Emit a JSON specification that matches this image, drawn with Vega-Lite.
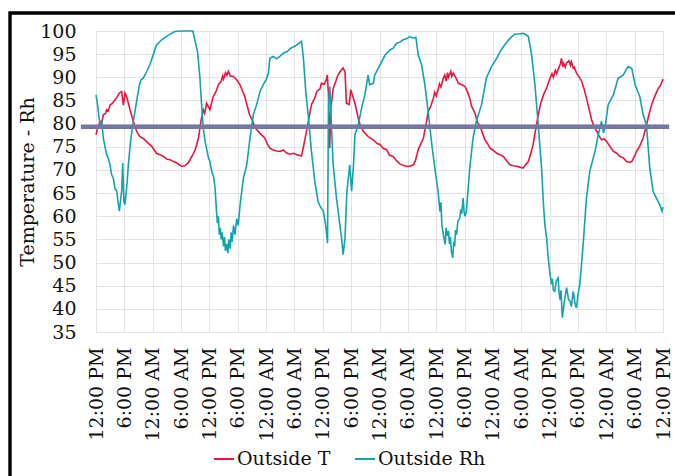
{
  "$schema": "https://vega.github.io/schema/vega-lite/v6.json",
  "width": 567,
  "height": 301,
  "autosize": {"type": "none"},
  "padding": {"left": 96, "top": 31, "right": 12, "bottom": 144},
  "background": "white",
  "config": {
    "font": "DejaVu Serif",
    "view": {"stroke": "#A6A6A6", "strokeWidth": 1},
    "axis": {"gridColor": "#E3E3E3", "gridWidth": 1, "domain": false, "ticks": false, "tickSize": 0, "labelColor": "#111111", "titleColor": "#111111", "labelFont": "DejaVu Serif", "titleFont": "DejaVu Serif", "labelFontSize": 19, "titleFontSize": 19, "titleFontWeight": "normal", "labelOverlap": false, "labelFlush": false},
    "legend": {"labelFont": "DejaVu Serif", "labelFontSize": 19, "labelColor": "#111111"}
  },
  "datasets": {
    "T": [
      {"h":0,"v":77.6},{"h":0.3,"v":78.8},{"h":0.85,"v":80.5},{"h":1.2,"v":80.0},{"h":1.55,"v":81.9},{"h":2.0,"v":82.2},{"h":2.26,"v":83},{"h":2.6,"v":82.7},{"h":2.96,"v":84},{"h":3.4,"v":84.3},{"h":4.02,"v":85.1},{"h":4.4,"v":85.6},{"h":4.94,"v":86.6},{"h":5.43,"v":86.9},{"h":5.79,"v":84},{"h":6.14,"v":86.6},{"h":6.49,"v":85.8},{"h":7.2,"v":83},{"h":7.9,"v":80.5},{"h":8.6,"v":78.3},{"h":9.3,"v":77.2},{"h":10.0,"v":76.8},{"h":10.7,"v":76.1},{"h":11.8,"v":75.1},{"h":12.8,"v":73.6},{"h":13.5,"v":73.3},{"h":14.3,"v":72.9},{"h":15.0,"v":72.3},{"h":15.7,"v":72.2},{"h":16.4,"v":71.8},{"h":17.1,"v":71.5},{"h":18.1,"v":70.8},{"h":18.8,"v":70.9},{"h":19.4,"v":71.4},{"h":19.9,"v":72.2},{"h":20.5,"v":73.3},{"h":21.0,"v":74.4},{"h":21.7,"v":76.9},{"h":22.2,"v":80.5},{"h":22.7,"v":83},{"h":23.0,"v":82.2},{"h":23.4,"v":84.4},{"h":24.1,"v":83},{"h":24.8,"v":85.8},{"h":25.4,"v":86.9},{"h":25.9,"v":88.4},{"h":26.5,"v":89.2},{"h":26.8,"v":90.3},{"h":27.0,"v":89.6},{"h":27.4,"v":91.0},{"h":27.7,"v":90.4},{"h":28.0,"v":91.3},{"h":28.4,"v":90.3},{"h":29.1,"v":90.2},{"h":29.8,"v":89.4},{"h":30.5,"v":88.3},{"h":31.5,"v":85.8},{"h":32.5,"v":81.9},{"h":33.0,"v":81},{"h":33.6,"v":79.2},{"h":34.7,"v":77.9},{"h":35.7,"v":76.9},{"h":36.3,"v":75.5},{"h":36.8,"v":74.7},{"h":37.5,"v":74.3},{"h":38.2,"v":74.1},{"h":39.0,"v":74.0},{"h":39.6,"v":74.3},{"h":40.3,"v":73.7},{"h":41.0,"v":73.4},{"h":41.8,"v":73.6},{"h":42.5,"v":73.3},{"h":43.5,"v":73.0},{"h":44.2,"v":76.5},{"h":44.9,"v":80.2},{"h":45.6,"v":84.1},{"h":46.3,"v":85.5},{"h":46.7,"v":86.9},{"h":47.4,"v":87.5},{"h":47.7,"v":88.7},{"h":48.3,"v":88.5},{"h":48.7,"v":89.4},{"h":48.95,"v":90.5},{"h":49.2,"v":86.2},{"h":49.45,"v":74.7},{"h":49.7,"v":83.3},{"h":50.2,"v":87.6},{"h":50.7,"v":89.0},{"h":51.2,"v":90.5},{"h":51.8,"v":91.4},{"h":52.3,"v":92.0},{"h":52.7,"v":91.2},{"h":53.0,"v":84.4},{"h":53.6,"v":84.1},{"h":53.9,"v":87.3},{"h":54.3,"v":86.0},{"h":54.8,"v":84.4},{"h":55.5,"v":81.2},{"h":55.9,"v":79.7},{"h":56.6,"v":78.3},{"h":57.6,"v":77.2},{"h":58.7,"v":76.5},{"h":59.5,"v":75.7},{"h":60.1,"v":75.5},{"h":60.8,"v":74.6},{"h":61.5,"v":74.4},{"h":62.1,"v":73.2},{"h":62.9,"v":72.9},{"h":63.6,"v":72.0},{"h":64.3,"v":71.3},{"h":65.0,"v":71.0},{"h":65.7,"v":70.8},{"h":66.4,"v":70.8},{"h":67.2,"v":71.1},{"h":67.6,"v":72.0},{"h":68.2,"v":74.4},{"h":68.7,"v":75.5},{"h":69.3,"v":76.9},{"h":69.9,"v":80.1},{"h":70.3,"v":82.6},{"h":70.8,"v":83.6},{"h":71.4,"v":85.5},{"h":71.7,"v":86.8},{"h":72.0,"v":86.0},{"h":72.4,"v":87.3},{"h":72.7,"v":88.6},{"h":73.0,"v":87.9},{"h":73.5,"v":89.8},{"h":73.8,"v":90.5},{"h":74.1,"v":89.2},{"h":74.4,"v":91.0},{"h":74.6,"v":90.0},{"h":75.1,"v":91.3},{"h":75.3,"v":90.2},{"h":75.6,"v":90.9},{"h":76.2,"v":89.8},{"h":76.7,"v":88.7},{"h":77.4,"v":88.4},{"h":78.1,"v":88.0},{"h":78.6,"v":86.9},{"h":79.1,"v":85.5},{"h":79.5,"v":83.7},{"h":80.2,"v":82.3},{"h":80.7,"v":80.3},{"h":81.3,"v":79.4},{"h":82.3,"v":76.5},{"h":82.8,"v":75.8},{"h":83.4,"v":74.7},{"h":84.1,"v":74.2},{"h":84.8,"v":73.6},{"h":85.5,"v":73.3},{"h":86.2,"v":72.9},{"h":86.9,"v":72.0},{"h":87.6,"v":71.1},{"h":88.3,"v":70.9},{"h":89.0,"v":70.8},{"h":89.7,"v":70.6},{"h":90.4,"v":70.4},{"h":91.0,"v":71.2},{"h":91.5,"v":71.8},{"h":92.0,"v":73.5},{"h":92.5,"v":75.4},{"h":93.1,"v":79.0},{"h":93.6,"v":81.9},{"h":94.1,"v":84.3},{"h":94.7,"v":86.2},{"h":95.4,"v":87.8},{"h":96.1,"v":89.8},{"h":96.5,"v":90.8},{"h":96.8,"v":90.0},{"h":97.2,"v":91.5},{"h":97.5,"v":90.8},{"h":98.0,"v":92.2},{"h":98.3,"v":93.0},{"h":98.5,"v":94.1},{"h":98.8,"v":92.3},{"h":99.0,"v":93.0},{"h":99.3,"v":92.2},{"h":99.6,"v":93.1},{"h":100.1,"v":93.6},{"h":100.4,"v":92.6},{"h":100.6,"v":93.4},{"h":101.0,"v":92.0},{"h":101.2,"v":92.2},{"h":101.7,"v":90.9},{"h":102.3,"v":90.0},{"h":102.8,"v":89.1},{"h":103.3,"v":87.5},{"h":103.8,"v":85.5},{"h":104.4,"v":83.0},{"h":104.9,"v":80.8},{"h":105.5,"v":79.2},{"h":106.0,"v":78.3},{"h":106.5,"v":77.3},{"h":107.0,"v":76.5},{"h":107.6,"v":76.7},{"h":108.1,"v":76.1},{"h":108.8,"v":75.0},{"h":109.5,"v":74.0},{"h":110.2,"v":73.6},{"h":110.9,"v":72.9},{"h":111.6,"v":72.6},{"h":112.3,"v":71.8},{"h":112.9,"v":71.6},{"h":113.4,"v":71.8},{"h":113.9,"v":72.8},{"h":114.4,"v":74.0},{"h":115.1,"v":75.2},{"h":115.8,"v":76.9},{"h":116.5,"v":79.7},{"h":117.0,"v":81.8},{"h":117.6,"v":84.1},{"h":118.3,"v":86.0},{"h":119.0,"v":87.6},{"h":119.5,"v":88.3},{"h":120,"v":89.6}
    ],
    "Rh": [
      {"h":0,"v":86.2},{"h":0.2,"v":85.0},{"h":0.5,"v":82.6},{"h":0.85,"v":79.7},{"h":1.2,"v":80.5},{"h":1.55,"v":76.9},{"h":1.9,"v":75.0},{"h":2.26,"v":73.3},{"h":2.6,"v":72.5},{"h":2.96,"v":71.1},{"h":3.3,"v":69.0},{"h":3.67,"v":68.2},{"h":4.0,"v":66.0},{"h":4.4,"v":65.4},{"h":4.7,"v":62.8},{"h":4.94,"v":61.1},{"h":5.2,"v":63.5},{"h":5.43,"v":65.4},{"h":5.65,"v":71.5},{"h":5.9,"v":63.2},{"h":6.1,"v":62.5},{"h":6.35,"v":64.7},{"h":6.6,"v":67.5},{"h":6.85,"v":71.1},{"h":7.3,"v":76.1},{"h":7.9,"v":80.5},{"h":8.6,"v":84.8},{"h":9.2,"v":88.4},{"h":9.5,"v":89.4},{"h":10.0,"v":89.8},{"h":10.7,"v":91.2},{"h":11.4,"v":92.7},{"h":12.1,"v":94.8},{"h":12.8,"v":97.0},{"h":13.9,"v":98.1},{"h":15.3,"v":99.1},{"h":16.7,"v":99.9},{"h":18.1,"v":100},{"h":19.9,"v":100},{"h":20.5,"v":100},{"h":21.0,"v":97.7},{"h":21.5,"v":95.5},{"h":22.0,"v":89.8},{"h":22.4,"v":83.3},{"h":22.7,"v":79.0},{"h":23.1,"v":76.1},{"h":23.8,"v":72.6},{"h":24.1,"v":71.8},{"h":24.5,"v":69.7},{"h":24.9,"v":68.5},{"h":25.2,"v":66.1},{"h":25.5,"v":61.1},{"h":25.7,"v":58.5},{"h":25.9,"v":60.0},{"h":26.1,"v":56.0},{"h":26.3,"v":57.5},{"h":26.5,"v":55.0},{"h":26.7,"v":56.5},{"h":27.0,"v":53.5},{"h":27.2,"v":55.5},{"h":27.4,"v":52.5},{"h":27.7,"v":54.0},{"h":27.9,"v":52.0},{"h":28.1,"v":55.0},{"h":28.4,"v":53.0},{"h":28.6,"v":56.5},{"h":28.8,"v":54.5},{"h":29.1,"v":58.0},{"h":29.4,"v":56.0},{"h":29.8,"v":59.5},{"h":30.1,"v":58.0},{"h":30.5,"v":62.5},{"h":31.2,"v":68.2},{"h":31.9,"v":71.1},{"h":32.6,"v":76.9},{"h":33.3,"v":81.9},{"h":34.0,"v":84.1},{"h":34.7,"v":86.9},{"h":35.4,"v":88.4},{"h":36.0,"v":89.5},{"h":36.5,"v":90.9},{"h":36.8,"v":94.1},{"h":37.5,"v":94.5},{"h":38.2,"v":94.0},{"h":38.9,"v":94.5},{"h":39.6,"v":95.2},{"h":40.4,"v":95.5},{"h":41.1,"v":96.2},{"h":41.8,"v":96.6},{"h":42.4,"v":96.9},{"h":42.9,"v":97.3},{"h":43.5,"v":97.8},{"h":43.9,"v":94.1},{"h":44.4,"v":86.9},{"h":44.9,"v":81.9},{"h":45.6,"v":74.0},{"h":46.3,"v":67.5},{"h":47.0,"v":63.2},{"h":47.5,"v":62.0},{"h":48.1,"v":61.1},{"h":48.6,"v":58.2},{"h":49.0,"v":54.2},{"h":49.2,"v":84.0},{"h":49.5,"v":88.0},{"h":49.85,"v":79.0},{"h":50.2,"v":71.1},{"h":50.9,"v":63.9},{"h":51.6,"v":58.2},{"h":52.0,"v":55.0},{"h":52.3,"v":51.7},{"h":52.7,"v":55.3},{"h":53.1,"v":65.4},{"h":53.7,"v":71.1},{"h":54.1,"v":65.4},{"h":54.5,"v":71.1},{"h":54.8,"v":77.6},{"h":55.5,"v":79.7},{"h":56.2,"v":83.3},{"h":56.9,"v":86.2},{"h":57.6,"v":90.5},{"h":57.9,"v":88.4},{"h":58.7,"v":88.7},{"h":59.0,"v":90.5},{"h":60.1,"v":92.7},{"h":61.2,"v":94.8},{"h":62.2,"v":95.9},{"h":62.9,"v":96.3},{"h":63.6,"v":97.3},{"h":64.3,"v":97.6},{"h":65.0,"v":98.1},{"h":65.7,"v":98.3},{"h":66.4,"v":98.8},{"h":67.0,"v":98.5},{"h":67.7,"v":98.6},{"h":68.2,"v":94.8},{"h":68.9,"v":92.7},{"h":69.6,"v":88.4},{"h":70.3,"v":82.6},{"h":71.0,"v":76.1},{"h":71.8,"v":69.7},{"h":72.4,"v":65.4},{"h":72.8,"v":61.0},{"h":73.0,"v":63.0},{"h":73.2,"v":58.2},{"h":73.6,"v":55.5},{"h":73.9,"v":53.9},{"h":74.1,"v":57.5},{"h":74.3,"v":55.8},{"h":74.6,"v":56.8},{"h":74.8,"v":54.0},{"h":75.0,"v":55.5},{"h":75.2,"v":52.5},{"h":75.5,"v":51.0},{"h":75.7,"v":54.5},{"h":75.9,"v":53.5},{"h":76.1,"v":57.0},{"h":76.3,"v":56.0},{"h":76.6,"v":59.0},{"h":77.0,"v":59.6},{"h":77.2,"v":61.5},{"h":77.4,"v":60.5},{"h":77.7,"v":63.9},{"h":77.9,"v":61.0},{"h":78.1,"v":60.0},{"h":78.4,"v":61.1},{"h":79.1,"v":70.4},{"h":79.8,"v":76.9},{"h":80.5,"v":80.5},{"h":81.6,"v":84.1},{"h":82.2,"v":87.5},{"h":82.6,"v":89.8},{"h":83.7,"v":92.3},{"h":84.8,"v":94.1},{"h":85.5,"v":95.5},{"h":86.2,"v":96.6},{"h":87.6,"v":98.4},{"h":88.6,"v":99.3},{"h":89.7,"v":99.4},{"h":90.4,"v":99.5},{"h":91.0,"v":99.2},{"h":91.5,"v":98.8},{"h":92.2,"v":94.8},{"h":92.9,"v":88.4},{"h":93.6,"v":79.7},{"h":94.3,"v":70.4},{"h":94.7,"v":62.5},{"h":95.0,"v":58.2},{"h":95.4,"v":55.0},{"h":95.7,"v":51.0},{"h":96.1,"v":47.5},{"h":96.4,"v":45.3},{"h":96.6,"v":46.5},{"h":96.8,"v":44.0},{"h":97.1,"v":43.8},{"h":97.4,"v":46.0},{"h":97.8,"v":46.7},{"h":98.0,"v":43.5},{"h":98.2,"v":42.0},{"h":98.4,"v":44.0},{"h":98.7,"v":38.1},{"h":99.1,"v":41.5},{"h":99.6,"v":44.6},{"h":100.0,"v":42.0},{"h":100.3,"v":41.7},{"h":100.6,"v":40.5},{"h":101.0,"v":43.8},{"h":101.4,"v":41.0},{"h":101.7,"v":40.2},{"h":102.0,"v":43.0},{"h":102.4,"v":45.3},{"h":103.1,"v":53.9},{"h":103.8,"v":63.9},{"h":104.5,"v":69.7},{"h":105.6,"v":74.0},{"h":106.3,"v":77.6},{"h":107.0,"v":80.5},{"h":107.4,"v":78.0},{"h":107.7,"v":79.0},{"h":108.4,"v":84.1},{"h":109.5,"v":86.2},{"h":110.5,"v":89.8},{"h":111.6,"v":90.5},{"h":112.1,"v":91.5},{"h":112.6,"v":92.3},{"h":113.4,"v":91.9},{"h":114.1,"v":88.4},{"h":115.1,"v":85.8},{"h":115.8,"v":81.9},{"h":116.5,"v":79.7},{"h":117.2,"v":70.4},{"h":117.9,"v":65.4},{"h":118.6,"v":63.9},{"h":119.3,"v":62.5},{"h":119.8,"v":61.1},{"h":120,"v":62.0}
    ]
  },
  "layer": [
    {
      "data": {"name": "T"},
      "mark": {"type": "line", "strokeWidth": 1.6, "interpolate": "linear"},
      "encoding": {
        "x": {
          "field": "h", "type": "quantitative",
          "scale": {"domain": [0, 120], "nice": false, "zero": false},
          "axis": {
            "title": null,
            "values": [0,6,12,18,24,30,36,42,48,54,60,66,72,78,84,90,96,102,108,114,120],
            "tickCount": 40,
            "labelExpr": "['12:00 PM','6:00 PM','12:00 AM','6:00 AM'][round(datum.value/6)%4]",
            "labelAngle": -90, "labelAlign": "right", "labelBaseline": "middle",
            "labelPadding": 15, "labelOverlap": false, "labelFlush": false
          }
        },
        "y": {
          "field": "v", "type": "quantitative",
          "scale": {"domain": [35, 100], "nice": false, "zero": false},
          "axis": {
            "title": "Temperature - Rh",
            "values": [35,40,45,50,55,60,65,70,75,80,85,90,95,100],
            "tickCount": 30,
            "labelPadding": 20, "titlePadding": 2, "labelOverlap": false, "labelFlush": false
          }
        },
        "color": {
          "datum": "Outside T",
          "type": "nominal",
          "scale": {"domain": ["Outside T", "Outside Rh"], "range": ["#E8173F", "#13A3AC"]},
          "legend": {
            "title": null, "orient": "none", "direction": "horizontal",
            "legendX": 117, "legendY": 417, "padding": 0,
            "symbolType": "stroke", "symbolSize": 400, "symbolStrokeWidth": 2,
            "labelOffset": 2, "columnPadding": 20
          }
        }
      }
    },
    {
      "data": {"name": "Rh"},
      "mark": {"type": "line", "strokeWidth": 1.6, "interpolate": "linear"},
      "encoding": {
        "x": {"field": "h", "type": "quantitative"},
        "y": {"field": "v", "type": "quantitative"},
        "color": {"datum": "Outside Rh", "type": "nominal"}
      }
    },
    {
      "data": {"values": [{}]},
      "mark": {"type": "rule", "color": "#7479A1", "strokeWidth": 4.5, "clip": false},
      "encoding": {
        "x": {"datum": -3.2, "type": "quantitative"},
        "x2": {"datum": 121.3},
        "y": {"datum": 79.3, "type": "quantitative"}
      }
    },
    {
      "data": {"values": [{}]},
      "mark": {"type": "rect", "fill": null, "fillOpacity": 0, "stroke": "#000000", "strokeWidth": 3.4, "clip": false},
      "encoding": {
        "x": {"datum": -18.2, "type": "quantitative"},
        "x2": {"datum": 140},
        "y": {"datum": 103.9, "type": "quantitative"},
        "y2": {"datum": 0}
      }
    }
  ]
}
